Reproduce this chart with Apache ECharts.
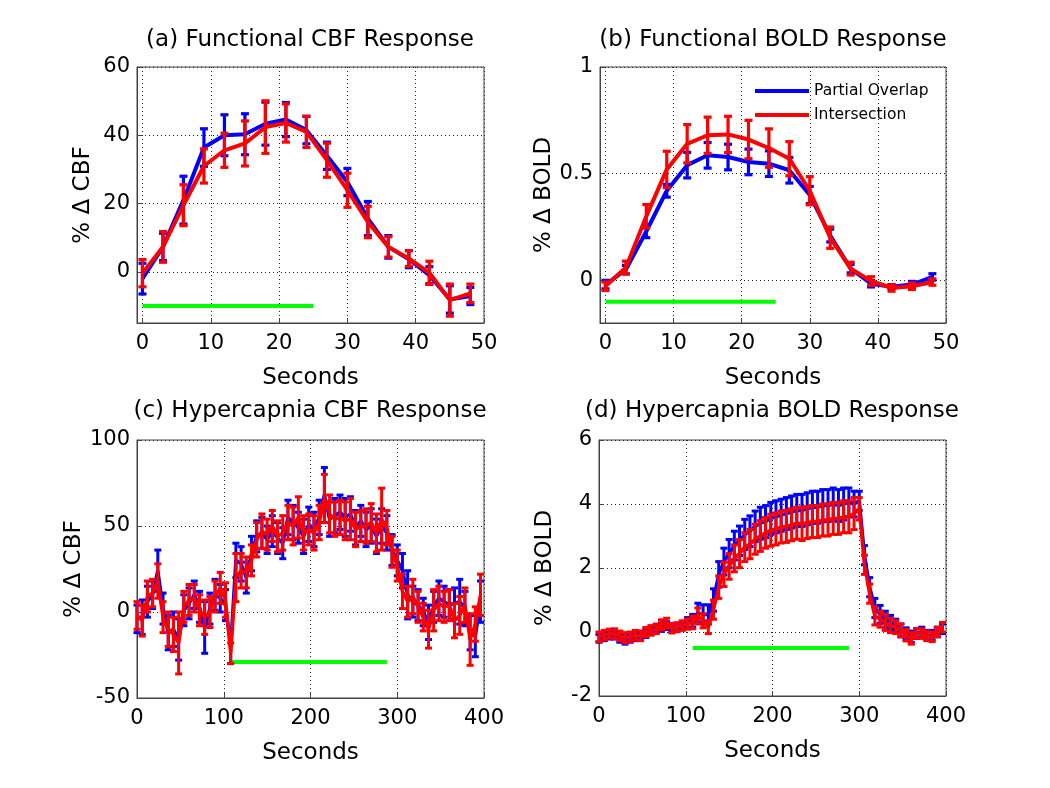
<!DOCTYPE html>
<html><head><meta charset="utf-8">
<script src="https://cdn.jsdelivr.net/npm/echarts@6/dist/echarts.min.js"></script>
<style>html,body{margin:0;padding:0;background:#fff}#c{width:1050px;height:788px}</style>
</head><body><div id="c"></div><script>
// ---------- data ----------
const tA = [0,3,6,9,12,15,18,21,24,27,30,33,36,39,42,45,48];
const blueA = [-2,7.3,21,36.4,40,40.3,43.4,44.6,41.5,34,26.3,15.6,7.3,3.7,-1,-8.1,-7.1];
const blueAErr = [4.5,4,7,5.5,6,6,6.3,5,4,4,4,5,3.3,2.5,2.5,4,2.5];
const redA = [-0.4,7.3,19.5,31,35.6,37.6,42.4,43.6,41,32.7,23.9,14.6,7.3,3.9,-0.3,-8.3,-6.3];
const redAErr = [4,4.5,6,5,5,6.6,7.7,5.6,4.6,5,5,4.6,3,2.3,3.4,4.7,2.7];

const blueB = [-0.02,0.05,0.23,0.42,0.54,0.586,0.578,0.555,0.547,0.516,0.4,0.21,0.055,-0.016,-0.03,-0.02,0.016];
const blueBErr = [0.02,0.02,0.03,0.03,0.06,0.06,0.06,0.06,0.06,0.06,0.04,0.03,0.02,0.015,0.01,0.015,0.015];
const redB = [-0.028,0.06,0.3,0.52,0.64,0.68,0.684,0.66,0.62,0.57,0.42,0.2,0.055,-0.003,-0.036,-0.028,-0.008];
const redBErr = [0.02,0.03,0.055,0.085,0.09,0.085,0.085,0.09,0.09,0.08,0.066,0.05,0.03,0.02,0.015,0.015,0.015];

const tCD = [0,6,12,18,24,30,36,42,48,54,60,66,72,78,84,90,96,102,108,114,120,126,132,138,144,150,156,162,168,174,180,186,192,198,204,210,216,222,228,234,240,246,252,258,264,270,276,282,288,294,300,306,312,318,324,330,336,342,348,354,360,366,372,378,384,390,396];

const blueC = [-4,-3,6,10,24,2,-12,-10,-16,1,
  5,10,3,-9,2,10,8,4,-20,30,
  28,20,34,44,46,42,47,43,40,55,
  52,49,44,51,48,55,68,54,56,58,
  55,57,49,53,48,50,44,50,46,36,
  30,24,10,6,4,0,-6,3,8,6,
  4,5,6,2,-12,-14,6];
const blueCErr = [8,10,9,8,12,9,10,10,12,9,
  9,8,9,15,9,9,8,9,10,10,
  10,9,10,9,9,8,9,9,9,10,
  10,9,10,10,10,10,16,10,10,10,
  11,10,10,9,10,10,10,10,10,9,
  9,10,14,9,9,8,10,9,10,9,
  9,9,13,10,10,12,12];
const redC = [-2,-5,9,11,18,-3,-10,-13,-18,3,
  7,8,1,-3,0,9,14,7,-24,20,
  24,23,30,42,47,45,50,44,46,52,
  50,55,46,48,46,52,66,57,54,55,
  53,54,48,50,50,52,46,54,49,35,
  27,12,6,9,3,-3,-10,1,5,3,
  4,-5,-2,4,-16,-7,10];
const redCErr = [8,9,9,8,10,9,10,10,18,9,
  9,8,9,10,9,9,9,10,6,14,
  10,9,9,10,10,9,9,9,10,10,
  11,12,10,9,10,10,14,11,10,10,
  11,12,10,9,10,11,11,18,10,9,
  9,10,9,10,9,8,11,12,10,9,
  9,10,11,10,15,10,12];

const blueD = [-0.2,-0.15,-0.1,-0.1,-0.2,-0.25,-0.2,-0.15,-0.1,-0.05,
  0.05,0.1,0.15,0.2,0.12,0.15,0.2,0.3,0.35,0.6,
  0.55,0.55,1.0,1.8,2.2,2.45,2.7,2.85,3.05,3.15,
  3.3,3.4,3.45,3.55,3.6,3.65,3.7,3.75,3.8,3.8,
  3.85,3.9,3.9,3.95,3.95,4.0,3.95,4.0,4.05,4.0,
  4.1,2.4,1.4,0.75,0.55,0.4,0.3,0.2,0.05,-0.05,
  -0.15,-0.05,0.0,-0.1,-0.1,0.0,0.1];
const blueDErr = [0.12,0.12,0.12,0.12,0.12,0.13,0.12,0.12,0.12,0.12,
  0.12,0.12,0.13,0.12,0.12,0.12,0.12,0.15,0.2,0.3,
  0.3,0.3,0.35,0.4,0.42,0.44,0.45,0.46,0.47,0.48,
  0.48,0.5,0.5,0.5,0.5,0.5,0.5,0.5,0.5,0.5,
  0.5,0.5,0.5,0.5,0.5,0.5,0.5,0.5,0.45,0.4,
  0.3,0.3,0.3,0.3,0.28,0.25,0.22,0.2,0.2,0.18,
  0.18,0.15,0.15,0.15,0.15,0.15,0.15];
const redD = [-0.15,-0.1,-0.05,-0.05,-0.12,-0.18,-0.15,-0.1,-0.12,0.0,
  0.05,0.1,0.22,0.28,0.12,0.15,0.2,0.25,0.3,0.5,
  0.35,0.15,0.7,1.4,1.8,2.05,2.3,2.45,2.65,2.75,
  2.9,3.0,3.1,3.18,3.22,3.28,3.3,3.35,3.4,3.38,
  3.42,3.45,3.45,3.5,3.5,3.55,3.55,3.6,3.6,3.7,
  3.85,2.1,1.2,0.5,0.4,0.3,0.2,0.15,0.05,-0.1,
  -0.2,-0.05,-0.05,-0.12,-0.15,0.0,0.15];
const redDErr = [0.15,0.15,0.14,0.15,0.15,0.16,0.15,0.15,0.15,0.14,
  0.15,0.15,0.16,0.15,0.15,0.14,0.15,0.16,0.2,0.25,
  0.22,0.2,0.3,0.35,0.38,0.4,0.42,0.44,0.45,0.46,
  0.47,0.48,0.48,0.5,0.5,0.5,0.5,0.5,0.5,0.52,
  0.5,0.5,0.5,0.5,0.5,0.5,0.5,0.5,0.5,0.5,
  0.35,0.3,0.3,0.28,0.25,0.25,0.22,0.2,0.2,0.18,
  0.18,0.15,0.15,0.15,0.15,0.15,0.15];

const stimA = [[0,-10],[25,-10]];
const stimB = [[0,-0.1],[25,-0.1]];
const stimC = [[108,-29],[288,-29]];
const stimD = [[108,-0.5],[288,-0.5]];

const titles = ['(a) Functional CBF Response','(b) Functional BOLD Response','(c) Hypercapnia CBF Response','(d) Hypercapnia BOLD Response'];
const yNames = ['% \u0394 CBF','% \u0394 BOLD','% \u0394 CBF','% \u0394 BOLD'];
const xTicksAB = [0,10,20,30,40,50];
const yTicksA = [0,20,40,60];
const yTicksB = [0,0.5,1];
const legendNames = ['Partial Overlap','Intersection'];

// ---------- chart ----------
const FONT = 'DejaVu Sans';
const BLUE = '#0000ff', RED = '#ff0000', GREEN = '#00ff00';
const grids = [
  {left:137, top:67, width:347, height:256},
  {left:600, top:67, width:346, height:256},
  {left:137, top:440, width:347, height:258},
  {left:599, top:440, width:347, height:256}
].map(g => Object.assign(g, {show:true, borderColor:'#444', borderWidth:1, backgroundColor:'#fff', containLabel:false}));

const splitLine = {show:true, lineStyle:{type:[1,3], color:'#222', width:1}};
function mkX(gi, min, max, ticks, interval) {
  const ax = {type:'value', gridIndex:gi, min, max,
    name:'Seconds', nameLocation:'middle', nameGap:44,
    nameTextStyle:{fontSize:23, color:'#000', fontFamily:FONT},
    axisLine:{show:true, onZero:false, lineStyle:{color:'#444'}},
    axisTick:{show:true, inside:true, length:5, lineStyle:{color:'#444'}},
    axisLabel:{fontSize:21, color:'#000', margin:10, fontFamily:FONT},
    splitLine};
  if (ticks) { ax.axisTick.customValues = ticks; ax.axisLabel.customValues = ticks; }
  if (interval) ax.interval = interval;
  return ax;
}
function mkY(gi, min, max, ticks, interval) {
  const ax = {type:'value', gridIndex:gi, min, max,
    name:yNames[gi], nameLocation:'middle', nameGap:42, nameRotate:90,
    nameTextStyle:{fontSize:23, color:'#000', fontFamily:FONT},
    axisLine:{show:true, onZero:false, lineStyle:{color:'#444'}},
    axisTick:{show:true, inside:true, length:5, lineStyle:{color:'#444'}},
    axisLabel:{fontSize:21, color:'#000', margin:7, fontFamily:FONT},
    splitLine};
  if (ticks) { ax.axisTick.customValues = ticks; ax.axisLabel.customValues = ticks; }
  if (interval) ax.interval = interval;
  return ax;
}

function lineSeries(gi, xs, ys, color, width, name, z) {
  return {type:'line', name, xAxisIndex:gi, yAxisIndex:gi, data: xs.map((x,i)=>[x, ys[i]]),
    symbol:'none', lineStyle:{color, width}, itemStyle:{color}, z, animation:false, silent:true};
}
function errSeries(gi, xs, ys, es, color, lw, hw, z) {
  return {type:'custom', xAxisIndex:gi, yAxisIndex:gi, z, animation:false, silent:true,
    data: xs.map((x,i)=>[x, ys[i], es[i]]),
    encode:{x:0, y:1},
    renderItem: function(params, api) {
      const x = api.value(0), y = api.value(1), e = api.value(2);
      const p1 = api.coord([x, y + e]), p2 = api.coord([x, y - e]);
      const st = {stroke:color, lineWidth:lw};
      return {type:'group', children:[
        {type:'line', shape:{x1:p1[0], y1:p1[1], x2:p2[0], y2:p2[1]}, style:st},
        {type:'line', shape:{x1:p1[0]-hw, y1:p1[1], x2:p1[0]+hw, y2:p1[1]}, style:st},
        {type:'line', shape:{x1:p2[0]-hw, y1:p2[1], x2:p2[0]+hw, y2:p2[1]}, style:st}
      ]};
    }};
}
function stimSeries(gi, pts) {
  return {type:'line', xAxisIndex:gi, yAxisIndex:gi, data:pts, symbol:'none',
    lineStyle:{color:GREEN, width:4}, z:2, animation:false, silent:true};
}

const series = [];
function panel(gi, xs, b, be, r, re, lw, elw, hw, bName, rName) {
  series.push(lineSeries(gi, xs, b, BLUE, lw, bName, 3));
  series.push(errSeries(gi, xs, b, be, BLUE, elw, hw, 4));
  series.push(lineSeries(gi, xs, r, RED, lw, rName, 5));
  series.push(errSeries(gi, xs, r, re, RED, elw, hw, 6));
}
panel(0, tA, blueA, blueAErr, redA, redAErr, 4, 3.2, 4, 'blueA', 'redA');
panel(1, tA, blueB, blueBErr, redB, redBErr, 4, 3.2, 4, legendNames[0], legendNames[1]);
panel(2, tCD, blueC, blueCErr, redC, redCErr, 3.5, 3, 3.5, 'blueC', 'redC');
panel(3, tCD, blueD, blueDErr, redD, redDErr, 3.5, 3, 3.5, 'blueD', 'redD');
series.push(stimSeries(0, stimA), stimSeries(1, stimB), stimSeries(2, stimC), stimSeries(3, stimD));

const titlePos = [[310, 40], [773, 40], [310, 411], [772, 411]];
const graphic = titles.map((t, i) => ({type:'text', x:titlePos[i][0], y:titlePos[i][1], silent:true,
  style:{text:t, fontFamily:FONT, fontSize:23, fill:'#000', textAlign:'center', textVerticalAlign:'middle'}}));

const option = {
  backgroundColor:'#fff',
  animation:false,
  grid: grids,
  xAxis: [mkX(0, -0.8, 50, xTicksAB), mkX(1, -0.8, 50, xTicksAB), mkX(2, 0, 400, null, 100), mkX(3, 0, 400, null, 100)],
  yAxis: [mkY(0, -15, 60, yTicksA), mkY(1, -0.2, 1, yTicksB), mkY(2, -50, 100, null, 50), mkY(3, -2, 6, null, 2)],
  legend: {data: legendNames, orient:'vertical', left:755, top:83, padding:0, itemWidth:54, itemHeight:4, itemGap:8,
    icon:'rect', selectedMode:false,
    textStyle:{fontSize:15.5, color:'#000', fontFamily:FONT, lineHeight:16}},
  graphic,
  series
};
const chart = echarts.init(document.getElementById('c'), null, {renderer:'canvas'});
chart.setOption(option);
</script></body></html>
